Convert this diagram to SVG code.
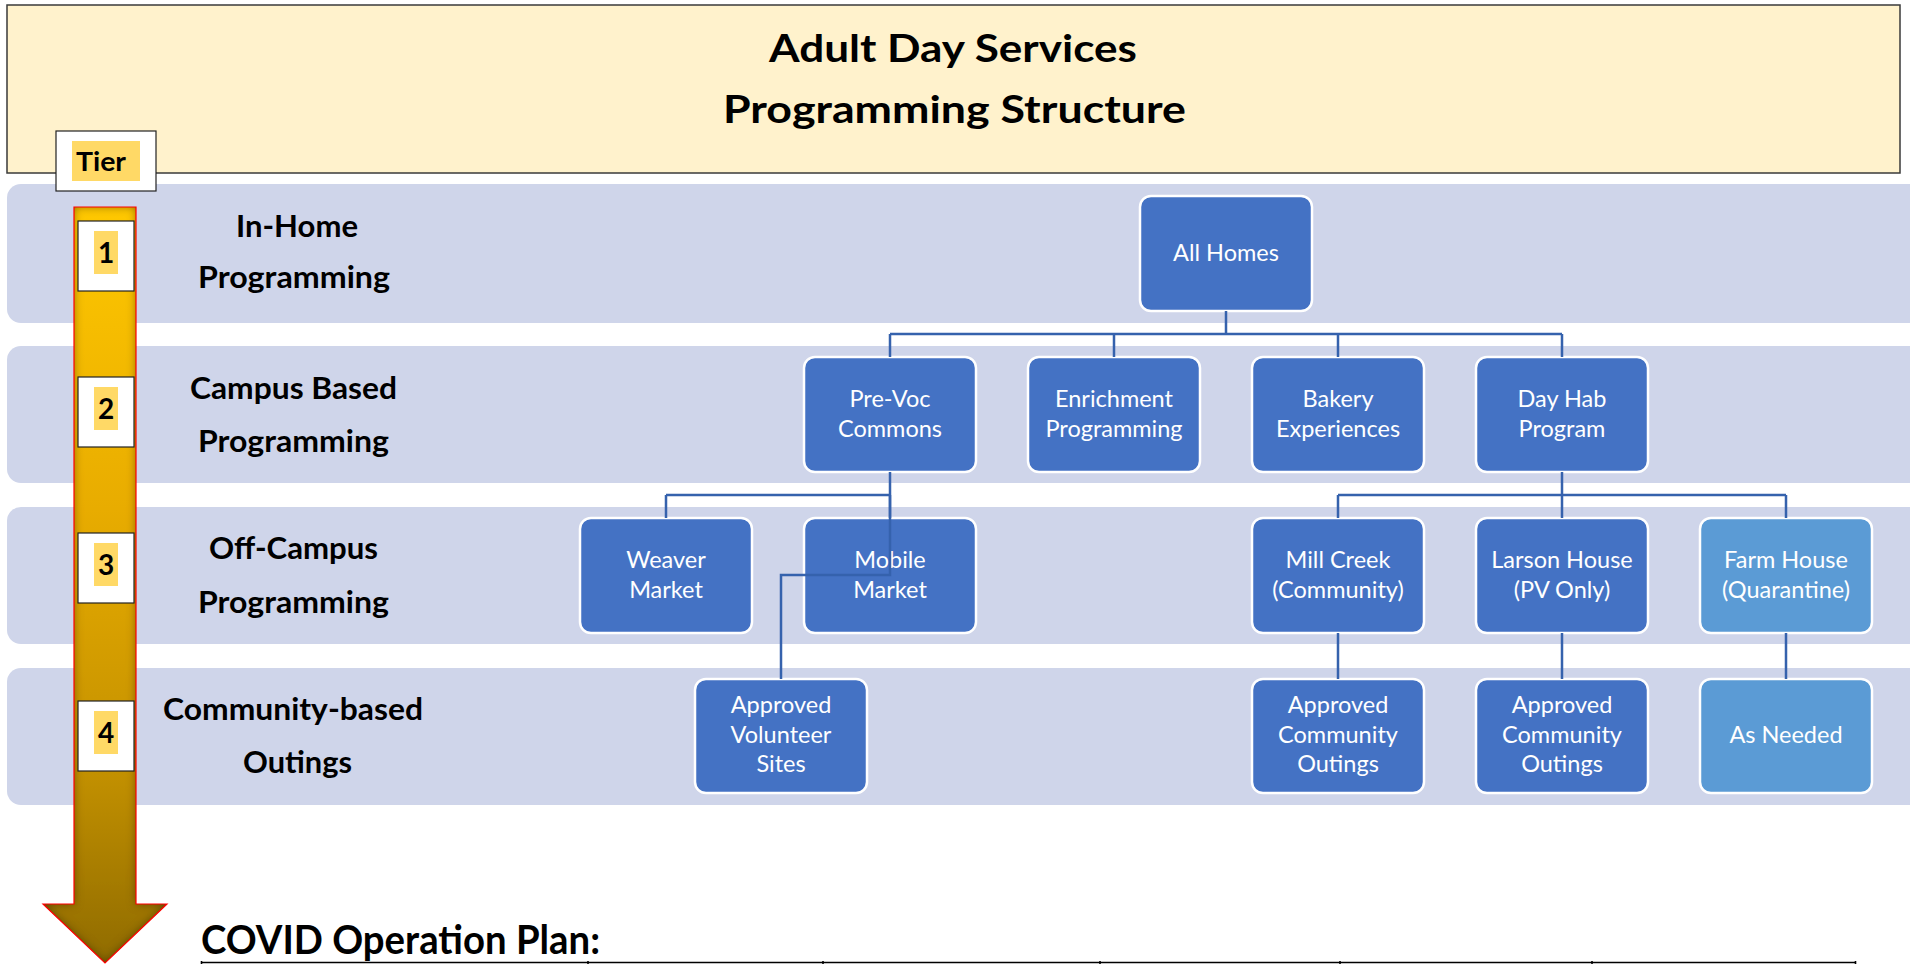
<svg xmlns="http://www.w3.org/2000/svg" width="1910" height="964" viewBox="0 0 1910 964">
<defs>
<linearGradient id="arrowGrad" gradientUnits="userSpaceOnUse" x1="0" y1="207" x2="0" y2="963">
<stop offset="0" stop-color="#FFC800"/>
<stop offset="0.4" stop-color="#E8AC00"/>
<stop offset="0.75" stop-color="#C29000"/>
<stop offset="1" stop-color="#8F6B00"/>
</linearGradient>
<filter id="inner" x="-20%" y="-5%" width="140%" height="110%">
<feFlood flood-color="#3a2c00" flood-opacity="0.85"/>
<feComposite in2="SourceAlpha" operator="out"/>
<feGaussianBlur stdDeviation="5"/>
<feComposite in2="SourceAlpha" operator="in" result="sh"/>
<feMerge><feMergeNode in="SourceGraphic"/><feMergeNode in="sh"/></feMerge>
</filter>
<style>
.band{fill:#CFD5EA;}
.lbl{font-family:Lato,"Liberation Sans",sans-serif;font-weight:bold;font-size:30px;fill:#000;}
.ttl{font-family:Lato,"Liberation Sans",sans-serif;font-weight:bold;font-size:38px;fill:#000;}
.num{font-family:Lato,"Liberation Sans",sans-serif;font-weight:bold;font-size:28px;fill:#000;text-anchor:middle;}
.nbox{fill:#fff;stroke:#222;stroke-width:1.2;}
.hl{fill:#FFD966;}
.node rect{fill:#4472C4;stroke:#fff;stroke-width:2.5;}
.node.light rect{fill:#5B9BD5;}
.node text{font-family:Lato,"Liberation Sans",sans-serif;font-size:23.5px;fill:#fff;text-anchor:middle;}
.conn{fill:none;stroke:#3562AD;stroke-width:2.5;}
</style>
</defs>

<g id="title">
<rect x="7" y="5" width="1893" height="168" fill="#FFF2CC" stroke="#3a3a3a" stroke-width="1.5"/>
<text class="ttl" x="769" y="62" textLength="368" lengthAdjust="spacingAndGlyphs">Adult Day Services</text>
<text class="ttl" x="723" y="123" textLength="463" lengthAdjust="spacingAndGlyphs">Programming Structure</text>
</g>

<g id="bands">
<rect class="band" x="7" y="184" width="1930" height="139" rx="14"/>
<rect class="band" x="7" y="346" width="1930" height="137" rx="14"/>
<rect class="band" x="7" y="507" width="1930" height="137" rx="14"/>
<rect class="band" x="7" y="668" width="1930" height="137" rx="14"/>
</g>

<g id="tier-arrow">
<polygon points="74,207 136,207 136,904 167,904 105,963 43,904 74,904" fill="url(#arrowGrad)" filter="url(#inner)"/>
<polygon points="74,207 136,207 136,904 167,904 105,963 43,904 74,904" fill="none" stroke="#FF0000" stroke-width="1.2"/>
</g>

<g id="tier-label">
<rect class="nbox" x="56" y="131" width="100" height="60"/>
<rect class="hl" x="72" y="141" width="68" height="40"/>
<text class="lbl" x="76" y="171" textLength="50" lengthAdjust="spacingAndGlyphs" style="font-size:27px">Tier</text>
</g>

<g id="tier-1">
<rect class="nbox" x="78" y="221" width="56" height="70"/>
<rect class="hl" x="94" y="231" width="24" height="43"/>
<text class="num" x="106" y="263">1</text>
</g>
<g id="tier-2">
<rect class="nbox" x="78" y="377" width="56" height="70"/>
<rect class="hl" x="94" y="387" width="24" height="43"/>
<text class="num" x="106" y="419">2</text>
</g>
<g id="tier-3">
<rect class="nbox" x="78" y="533" width="56" height="70"/>
<rect class="hl" x="94" y="543" width="24" height="43"/>
<text class="num" x="106" y="575">3</text>
</g>
<g id="tier-4">
<rect class="nbox" x="78" y="701" width="56" height="70"/>
<rect class="hl" x="94" y="711" width="24" height="43"/>
<text class="num" x="106" y="743">4</text>
</g>

<g id="row-labels">
<text class="lbl" x="236" y="237" textLength="122" lengthAdjust="spacingAndGlyphs">In-Home</text>
<text class="lbl" x="198" y="288" textLength="192" lengthAdjust="spacingAndGlyphs">Programming</text>
<text class="lbl" x="190" y="399" textLength="207" lengthAdjust="spacingAndGlyphs">Campus Based</text>
<text class="lbl" x="198" y="452" textLength="191" lengthAdjust="spacingAndGlyphs">Programming</text>
<text class="lbl" x="209" y="559" textLength="169" lengthAdjust="spacingAndGlyphs">Off-Campus</text>
<text class="lbl" x="198" y="613" textLength="191" lengthAdjust="spacingAndGlyphs">Programming</text>
<text class="lbl" x="163" y="720" textLength="260" lengthAdjust="spacingAndGlyphs">Community-based</text>
<text class="lbl" x="243" y="773" textLength="109" lengthAdjust="spacingAndGlyphs">Outings</text>
</g>

<g id="n-all-homes" class="node"><rect x="1140" y="196" width="172" height="115" rx="11"/><text x="1226" y="261">All Homes</text></g>

<g id="n-prevoc" class="node"><rect x="804" y="357" width="172" height="115" rx="11"/><text x="890" y="407">Pre-Voc</text><text x="890" y="437">Commons</text></g>
<g id="n-enrichment" class="node"><rect x="1028" y="357" width="172" height="115" rx="11"/><text x="1114" y="407">Enrichment</text><text x="1114" y="437">Programming</text></g>
<g id="n-bakery" class="node"><rect x="1252" y="357" width="172" height="115" rx="11"/><text x="1338" y="407">Bakery</text><text x="1338" y="437">Experiences</text></g>
<g id="n-dayhab" class="node"><rect x="1476" y="357" width="172" height="115" rx="11"/><text x="1562" y="407">Day Hab</text><text x="1562" y="437">Program</text></g>

<g id="n-weaver" class="node"><rect x="580" y="518" width="172" height="115" rx="11"/><text x="666" y="568">Weaver</text><text x="666" y="598">Market</text></g>
<g id="n-mobile" class="node"><rect x="804" y="518" width="172" height="115" rx="11"/><text x="890" y="568">Mobile</text><text x="890" y="598">Market</text></g>
<g id="n-millcreek" class="node"><rect x="1252" y="518" width="172" height="115" rx="11"/><text x="1338" y="568">Mill Creek</text><text x="1338" y="598">(Community)</text></g>
<g id="n-larson" class="node"><rect x="1476" y="518" width="172" height="115" rx="11"/><text x="1562" y="568">Larson House</text><text x="1562" y="598">(PV Only)</text></g>
<g id="n-farm" class="node light"><rect x="1700" y="518" width="172" height="115" rx="11"/><text x="1786" y="568">Farm House</text><text x="1786" y="598">(Quarantine)</text></g>

<g id="n-volunteer" class="node"><rect x="695" y="679" width="172" height="114" rx="11"/><text x="781" y="713">Approved</text><text x="781" y="743">Volunteer</text><text x="781" y="772">Sites</text></g>
<g id="n-outings-mc" class="node"><rect x="1252" y="679" width="172" height="114" rx="11"/><text x="1338" y="713">Approved</text><text x="1338" y="743">Community</text><text x="1338" y="772">Outings</text></g>
<g id="n-outings-lh" class="node"><rect x="1476" y="679" width="172" height="114" rx="11"/><text x="1562" y="713">Approved</text><text x="1562" y="743">Community</text><text x="1562" y="772">Outings</text></g>
<g id="n-asneeded" class="node light"><rect x="1700" y="679" width="172" height="114" rx="11"/><text x="1786" y="743">As Needed</text></g>

<g id="connectors">
<path class="conn" d="M1226 311 V334 M890 334 H1562 M890 334 V357 M1114 334 V357 M1338 334 V357 M1562 334 V357"/>
<path class="conn" d="M890 472 V495 M666 495 H890 M666 495 V518 M890 495 V518"/>
<path class="conn" d="M890 495 V575 H781 V679"/>
<path class="conn" d="M1562 472 V495 M1338 495 H1786 M1338 495 V518 M1562 495 V518 M1786 495 V518"/>
<path class="conn" d="M1338 633 V679 M1562 633 V679 M1786 633 V679"/>
</g>

<g id="covid">
<text class="lbl" x="201" y="954" textLength="399" lengthAdjust="spacingAndGlyphs" style="font-size:40px">COVID Operation Plan:</text>
<path d="M201 962.5 H1856 M201.5 961 V965 M588 961 V965 M823 961 V965 M1100 961 V965 M1340 961 V965 M1592 961 V965 M1855.5 961 V965" stroke="#000" stroke-width="1.6" fill="none"/>
</g>
</svg>
